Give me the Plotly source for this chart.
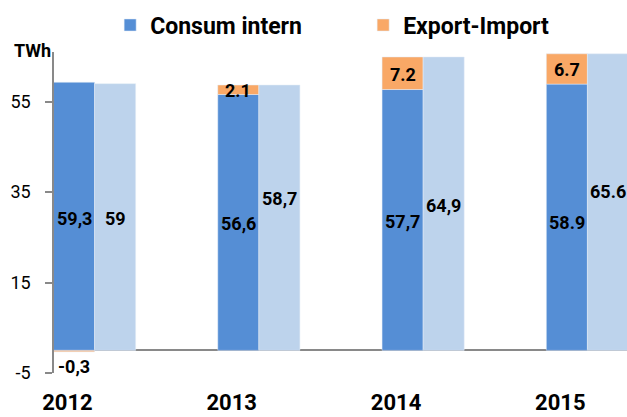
import plotly.graph_objects as go

years = ["2012", "2013", "2014", "2015"]
consum_intern = [59.3, 56.6, 57.7, 58.9]
export_import = [-0.3, 2.1, 7.2, 6.7]
productie = [59.0, 58.7, 64.9, 65.6]
consum_labels = ["59,3", "56,6", "57,7", "58.9"]
export_labels = ["-0,3", "2.1", "7.2", "6.7"]
productie_labels = ["59", "58,7", "64,9", "65.6"]
y_ticks = [-5, 15, 35, 55]
y_tick_labels = ["-5", "15", "35", "55"]

DARK = "#558ED5"
LIGHT = "#BDD3EC"
ORANGE = "#F9A866"
FONT = "Roboto"
BAR_W = 0.25

xs = list(range(len(years)))
x_light = [x + BAR_W for x in xs]

fig = go.Figure()
fig.add_trace(go.Bar(x=xs, y=consum_intern, width=BAR_W, marker_color=DARK,
                     name="Consum intern", showlegend=True))
fig.add_trace(go.Bar(x=xs, y=export_import, width=BAR_W, marker_color=ORANGE,
                     name="Export-Import", showlegend=True))
fig.add_trace(go.Bar(x=x_light, y=productie, width=BAR_W, marker_color=LIGHT,
                     name="Productie", showlegend=False))

lab_font = dict(family=FONT, size=18, color="black", weight="bold")
annotations = []
dark_shift = [-2, -1, -2, -5]
for x, v, t, s in zip(xs, consum_intern, consum_labels, dark_shift):
    annotations.append(dict(x=x, y=v / 2, text=t, showarrow=False,
                            font=lab_font, yshift=s))
for x, base, v, t in zip(xs, consum_intern, export_import, export_labels):
    if v < 0:
        annotations.append(dict(x=x, y=v, text=t, showarrow=False,
                                font=lab_font, yanchor="top", yshift=-2))
    else:
        annotations.append(dict(x=x, y=base + v / 2, text=t,
                                showarrow=False, font=lab_font, yshift=-1))
light_shift = [-1, 19, -2, 11]
for x, v, t, s in zip(x_light, productie, productie_labels, light_shift):
    annotations.append(dict(x=x, y=v / 2, text=t, showarrow=False,
                            font=lab_font, yshift=s))
annotations.append(dict(xref="paper", yref="paper", x=0, y=1.006, xanchor="right",
                        yanchor="middle", text="TWh", showarrow=False, xshift=-1,
                        font=dict(family=FONT, size=18, color="black", weight="bold")))

fig.update_layout(
    width=627, height=417,
    margin=dict(l=54, r=0, t=52, b=44),
    paper_bgcolor="white", plot_bgcolor="white",
    barmode="relative",
    font=dict(family=FONT, color="black"),
    annotations=annotations,
    legend=dict(orientation="h", x=0.098, y=1.084, xanchor="left", yanchor="middle",
                font=dict(family=FONT, size=23, color="black", weight="bold"),
                entrywidth=208, entrywidthmode="pixels",
                bgcolor="rgba(0,0,0,0)", itemclick=False),
    xaxis=dict(range=[-0.122, 3.366], showgrid=False, zeroline=False, showline=False,
               tickvals=[x - 0.04 for x in xs],
               ticktext=years, automargin=False,
               tickfont=dict(family=FONT, size=22, color="black", weight="bold"),
               ticks="", ticklabelstandoff=14),
    yaxis=dict(range=[-5, 66], tickvals=y_ticks, ticktext=y_tick_labels,
               showgrid=False, automargin=False,
               zeroline=True, zerolinecolor="#898989", zerolinewidth=1.5,
               showline=True, linecolor="#898989", linewidth=1.5,
               ticks="outside", ticklen=7, tickcolor="#898989", tickwidth=1.5,
               tickfont=dict(family=FONT, size=18, color="black"),
               ticklabelstandoff=11),
)

fig.write_html("out.html", config={"displayModeBar": False},
               post_script="document.body.style.margin='0';"
                           "document.body.style.overflow='hidden';")
